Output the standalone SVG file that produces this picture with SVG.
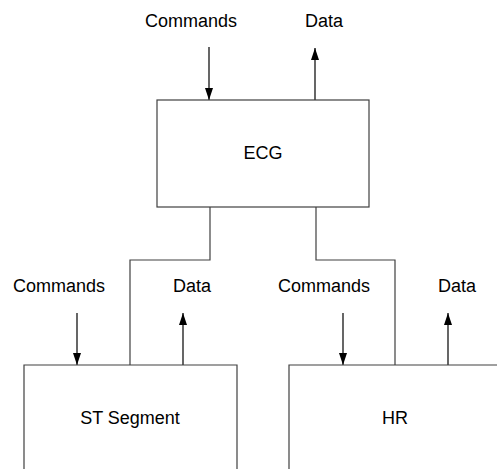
<svg xmlns="http://www.w3.org/2000/svg" width="497" height="469" viewBox="0 0 497 469">
  <defs>
    <marker id="ah" viewBox="0 0 12 8" refX="12" refY="4" markerWidth="12" markerHeight="8" markerUnits="userSpaceOnUse" orient="auto">
      <path d="M0,0 L12,4 L0,8 Z" fill="#000"/>
    </marker>
    <style>
      .box { fill: #fff; stroke: #404040; stroke-width: 1.2; }
      .wire { fill: none; stroke: #404040; stroke-width: 1.2; }
      .arr { fill: none; stroke: #000; stroke-width: 1.2; marker-end: url(#ah); }
      text { font-family: "Liberation Sans", Arial, sans-serif; font-size: 18px; fill: #000; text-anchor: middle; }
    </style>
  </defs>
  <rect width="497" height="469" fill="#fff"/>
  <g id="connectors">
    <path class="wire" d="M210,207 V260 H130 V365"/>
    <path class="wire" d="M316,207 V260 H395 V365"/>
    <path class="arr" d="M209,47 V100"/>
    <path class="arr" d="M315,100 V48"/>
    <path class="arr" d="M77,313 V365"/>
    <path class="arr" d="M183,365 V313"/>
    <path class="arr" d="M343,313 V365"/>
    <path class="arr" d="M448,365 V313"/>
  </g>
  <g id="ecg">
    <rect class="box" x="157" y="100" width="212" height="107"/>
    <text x="263" y="159">ECG</text>
  </g>
  <g id="st-segment">
    <path class="box" d="M24,470 V365 H237 V470"/>
    <text x="130" y="424">ST Segment</text>
  </g>
  <g id="hr">
    <path class="box" d="M289,470 V365 H498"/>
    <text x="395" y="424">HR</text>
  </g>
  <g id="labels">
    <text x="191" y="27">Commands</text>
    <text x="324" y="27">Data</text>
    <text x="59" y="292">Commands</text>
    <text x="192" y="292">Data</text>
    <text x="324" y="292">Commands</text>
    <text x="457" y="292">Data</text>
  </g>
</svg>
